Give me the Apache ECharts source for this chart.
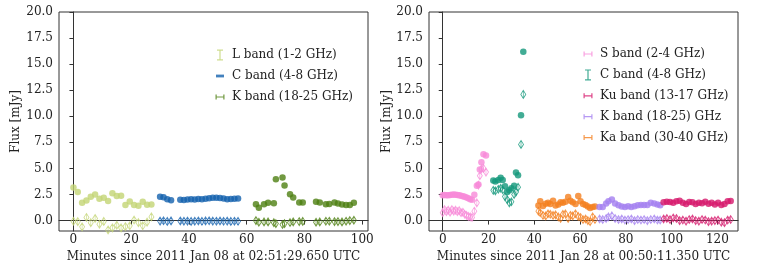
<!DOCTYPE html>
<html>
<head>
<meta charset="utf-8">
<script src="https://cdn.jsdelivr.net/npm/echarts@6/dist/echarts.min.js"></script>
<style>
html,body{margin:0;padding:0;background:#fff;}
#pic_chart{width:768px;height:272px;}
</style>
</head>
<body>
<div id="pic_chart"></div>
<script>
// ---- left panel: 2011 Jan 08 ----
var L_t = [0,1.5,3,4.5,6,7.5,9,10.5,12,13.5,15,16.5,18,19.5,21,22.5,24,25.5,27];
var L_I = [3.17,2.75,1.7,1.92,2.28,2.5,2.1,2.18,1.88,2.62,2.35,2.38,1.5,1.83,1.5,1.42,1.8,1.52,1.55];
var L_V = [-0.06,-0.1,-0.6,0.3,-0.2,0.2,-0.35,-0.08,-0.9,-0.7,-0.45,-0.7,-0.58,-0.5,0.05,-0.2,-0.5,-0.15,0.35];

var C1_t = [30,31.2,32.5,33.8,37,38.25,39.5,40.75,42,43.25,44.5,45.75,47,48.25,49.5,50.75,52,53.25,54.5,55.75,57];
var C1_I = [2.28,2.24,2.05,1.96,2.0,1.98,2.03,2.05,2.02,2.06,2.04,2.1,2.15,2.18,2.2,2.17,2.12,2.05,2.08,2.1,2.12];
var C1_V = [-0.05,-0.02,-0.08,-0.03,-0.04,-0.06,-0.05,-0.08,-0.06,-0.04,-0.07,-0.03,-0.02,-0.05,-0.06,-0.04,-0.07,-0.05,-0.08,-0.06,-0.07];

var K1_t = [63.2,64.2,66,67.4,69.4,70.1,72.4,73.1,75,76.1,78.2,79.4,84,85.3,87.4,88.6,90.4,91.6,93,94.4,95.7,97.1];
var K1_I = [1.57,1.22,1.57,1.7,1.67,3.97,4.13,3.37,2.53,2.21,1.73,1.73,1.8,1.73,1.57,1.6,1.73,1.63,1.54,1.5,1.5,1.7];
var K1_V = [0.0,-0.16,-0.13,-0.13,-0.2,-0.29,-0.38,-0.29,-0.19,-0.13,-0.1,-0.08,-0.16,-0.13,-0.06,-0.06,-0.1,-0.1,-0.13,-0.06,0.0,0.03];

// ---- right panel: 2011 Jan 28 ----
var S_t = [0,0.8,1.6,2.4,3.2,4,4.8,5.6,6.4,7.2,8,8.8,9.6,10.4,11.2,12,12.8,13.8,14.9,15.6,16.2,16.9,17.8,18.9];
var S_I = [2.42,2.45,2.43,2.44,2.46,2.47,2.5,2.48,2.45,2.42,2.38,2.33,2.28,2.22,2.15,2.05,2.0,2.48,3.35,3.45,4.9,5.6,6.35,6.25];
var S_V = [0.75,1.05,0.85,1.0,0.8,1.05,0.9,1.0,0.85,0.95,0.75,0.8,0.6,0.5,0.4,0.35,0.3,0.9,1.7,3.4,4.3,4.95,5.0,4.65];

var C2_t = [22.1,23.0,24.3,25.3,26.2,27.2,28.2,29.1,30.0,31.2,32.0,32.9,34.2,35.2];
var C2_I = [3.85,3.75,3.9,4.1,3.88,3.3,2.75,2.9,3.1,3.35,4.6,4.35,10.1,16.2];
var C2_V = [2.9,2.85,3.0,3.1,2.95,2.3,2.0,1.7,1.8,2.5,2.75,3.2,7.3,12.1];

var Ka_t = [41.8,42.6,43.8,45,46,47,48.2,49.3,50.5,51.5,52.5,53.6,54.8,55.8,56.8,58,59.2,60.2,61.3,62.4,63.4,64.4,65.5,66.5];
var Ka_I = [1.45,1.85,1.4,1.62,1.72,1.6,1.9,1.45,1.55,1.75,1.7,1.8,2.25,1.9,1.75,1.6,2.35,1.85,1.6,1.5,1.35,1.2,1.3,1.35];
var Ka_V = [0.9,0.75,0.5,0.45,0.65,0.6,0.5,0.55,0.35,0.2,0.6,0.65,0.2,0.5,0.45,0.65,0.4,0.3,0.1,0.15,0.0,-0.1,0.35,0.1];

var K2_t = [68.5,69.9,71.4,72.4,73.9,75.3,76.8,78.2,79.6,81,82.4,83.8,85.2,86.6,88,89.4,90.9,92.4,93.8,95];
var K2_I = [1.3,1.3,1.63,1.86,2.02,1.63,1.47,1.35,1.31,1.38,1.31,1.38,1.47,1.5,1.5,1.5,1.7,1.63,1.55,1.47];
var K2_V = [0.15,0.1,0.2,0.35,0.45,0.2,0.1,0.15,0.05,0.1,0.15,0.0,0.1,0.05,0.1,0.0,0.1,0.15,0.05,0.05];

var Ku_t = [96.5,97.9,99.3,100.7,102.1,103.5,104.9,106.3,107.7,109.1,110.5,111.9,113.3,114.7,116.1,117.5,118.9,120.3,121.7,123.1,124.5,125.8];
var Ku_I = [1.75,1.8,1.78,1.72,1.85,1.9,1.72,1.6,1.78,1.75,1.6,1.72,1.65,1.8,1.62,1.72,1.55,1.7,1.5,1.6,1.85,1.88];
var Ku_V = [0.15,0.2,0.1,0.25,0.2,0.0,0.05,-0.05,0.1,0.15,0.0,-0.05,0.1,0.05,-0.1,-0.05,0.0,0.05,-0.15,-0.2,0.05,0.1];

// ticks
var xTicksL = [0,20,40,60,80,100];
var xTicksR = [0,20,40,60,80,100,120];
var yTicks = [0,2.5,5,7.5,10,12.5,15,17.5,20];

var FONT = 'DejaVu Serif';
var FS = 12;
var diamond = 'path://M0,-10L6,0L0,10L-6,0ZM0,-10L0,10';
var iconV = 'path://M0,0M14,14M4,1.5H10V2.7H7.6V11.3H10V12.5H4V11.3H6.4V2.7H4Z';
var iconH = 'path://M0,0M14,14M2.5,4.5H3.7V6.4H10.3V4.5H11.5V9.5H10.3V7.6H3.7V9.5H2.5Z';
var iconDash = 'path://M0,0M14,14M3,5.6H11V8.4H3Z';

function pts(t, v) { return t.map(function (x, i) { return [x, v[i]]; }); }

function band(name, grid, color, t, I, V) {
    return [
        { name: name, type: 'scatter', xAxisIndex: grid, yAxisIndex: grid,
          symbol: 'circle', symbolSize: 6.5, itemStyle: { color: color },
          data: pts(t, I) },
        { name: name + ' V', type: 'scatter', xAxisIndex: grid, yAxisIndex: grid,
          symbol: diamond, symbolSize: [5, 8],
          itemStyle: { color: 'rgba(0,0,0,0)', borderColor: color, borderWidth: 0.9 },
          data: pts(t, V) }
    ];
}

function xAx(grid, min, max, ticks, name) {
    return {
        type: 'value', gridIndex: grid, min: min, max: max,
        axisLine: { show: true, lineStyle: { color: '#333', width: 1 } },
        axisTick: { show: true, length: 4, customValues: ticks, lineStyle: { color: '#333' } },
        axisLabel: { customValues: ticks, margin: 3, fontFamily: FONT, fontSize: FS, color: '#222' },
        splitLine: { show: false },
        name: name, nameLocation: 'middle', nameGap: 19,
        nameTextStyle: { fontFamily: FONT, fontSize: FS, color: '#222' }
    };
}

function yAx(grid, gap) {
    return {
        type: 'value', gridIndex: grid, min: -1, max: 20,
        axisLine: { show: true, lineStyle: { color: '#333', width: 1 } },
        axisTick: { show: true, length: 4, customValues: yTicks, lineStyle: { color: '#333' } },
        axisLabel: { customValues: yTicks, margin: 6, fontFamily: FONT, fontSize: FS, color: '#222',
                     formatter: function (v) { return v.toFixed(1); } },
        splitLine: { show: false },
        name: 'Flux [mJy]', nameLocation: 'middle', nameGap: gap,
        nameTextStyle: { fontFamily: FONT, fontSize: FS, color: '#222' }
    };
}

var myChart = echarts.init(document.getElementById('pic_chart'));
var option = {
    animation: false,
    backgroundColor: '#fff',
    grid: [
        { left: 59, top: 12, width: 309, height: 219, show: true, borderColor: '#333', borderWidth: 1 },
        { left: 429, top: 12, width: 309, height: 219, show: true, borderColor: '#333', borderWidth: 1 }
    ],
    xAxis: [
        xAx(0, -5, 102, xTicksL, 'Minutes since 2011 Jan 08 at 02:51:29.650 UTC'),
        xAx(1, -6, 129, xTicksR, 'Minutes since 2011 Jan 28 at 00:50:11.350 UTC')
    ],
    yAxis: [yAx(0, 37), yAx(1, 36)],
    legend: [
        {
            left: 208, top: 43, orient: 'vertical', itemWidth: 14, itemHeight: 14, itemGap: 7,
            textStyle: { fontFamily: FONT, fontSize: FS, color: '#222' },
            data: [
                { name: 'L band (1-2 GHz)', icon: iconV, itemStyle: { color: '#c3d574' } },
                { name: 'C band (4-8 GHz)', icon: iconDash, itemStyle: { color: '#1461ae' } },
                { name: 'K band (18-25 GHz)', icon: iconH, itemStyle: { color: '#4d7f12' } }
            ]
        },
        {
            left: 576, top: 42, orient: 'vertical', itemWidth: 14, itemHeight: 14, itemGap: 6.9,
            textStyle: { fontFamily: FONT, fontSize: FS, color: '#222' },
            data: [
                { name: 'S band (2-4 GHz)', icon: iconH, itemStyle: { color: '#f889d8' } },
                { name: 'C band (4-8 GHz)', icon: iconV, itemStyle: { color: '#13977a' } },
                { name: 'Ku band (13-17 GHz)', icon: iconH, itemStyle: { color: '#d6186c' } },
                { name: 'K band (18-25) GHz', icon: iconH, itemStyle: { color: '#a47ff0' } },
                { name: 'Ka band (30-40 GHz)', icon: iconH, itemStyle: { color: '#f4801f' } }
            ]
        }
    ],
    series: [].concat(
        band('L band (1-2 GHz)', 0, '#c3d574', L_t, L_I, L_V),
        band('C band (4-8 GHz)', 0, '#1461ae', C1_t, C1_I, C1_V),
        band('K band (18-25 GHz)', 0, '#4d7f12', K1_t, K1_I, K1_V),
        band('S band (2-4 GHz)', 1, '#f889d8', S_t, S_I, S_V),
        band('C band (4-8 GHz)', 1, '#13977a', C2_t, C2_I, C2_V),
        band('Ka band (30-40 GHz)', 1, '#f4801f', Ka_t, Ka_I, Ka_V),
        band('K band (18-25) GHz', 1, '#a47ff0', K2_t, K2_I, K2_V),
        band('Ku band (13-17 GHz)', 1, '#d6186c', Ku_t, Ku_I, Ku_V)
    )
};
myChart.setOption(option);
</script>
</body>
</html>
